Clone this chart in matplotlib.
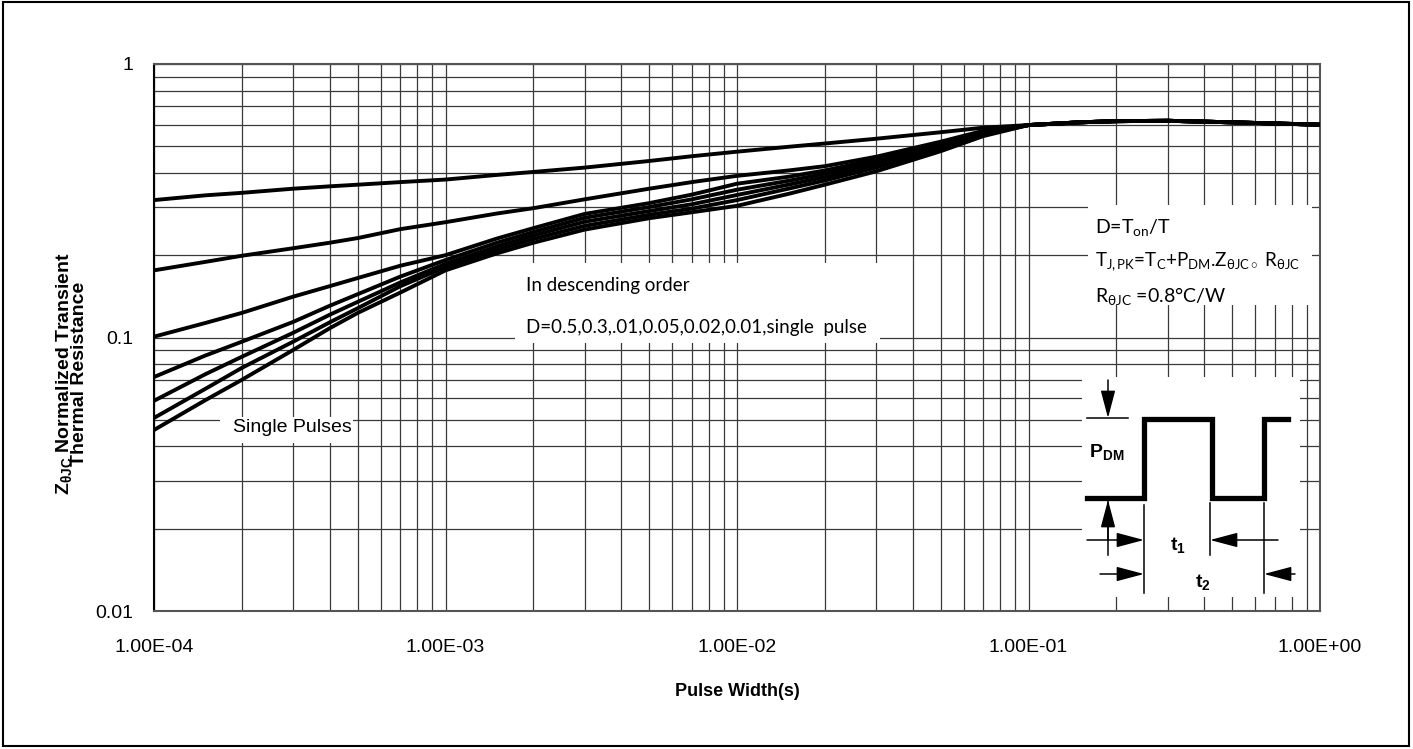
import matplotlib
matplotlib.use('Agg')
import matplotlib.pyplot as plt
from matplotlib.patches import Rectangle
from matplotlib.ticker import FixedLocator, NullFormatter, LogLocator

plt.rcParams['font.family'] = ['Liberation Sans', 'DejaVu Sans']
plt.rcParams['mathtext.fontset'] = 'custom'
plt.rcParams['mathtext.rm'] = 'Lato'
plt.rcParams['mathtext.it'] = 'Lato:italic'
plt.rcParams['mathtext.bf'] = 'Liberation Sans:bold'

# ---------------- data ----------------
pulse_width = [1e-4, 1.5e-4, 2e-4, 3e-4, 4e-4, 5e-4, 7e-4, 1e-3, 1.5e-3, 2e-3, 3e-3,
               5e-3, 7e-3, 1e-2, 1.5e-2, 2e-2, 3e-2, 5e-2, 7e-2, 1e-1, 1.5e-1, 2e-1,
               3e-1, 5e-1, 7e-1, 1.0]
z_d050 = [0.318, 0.331, 0.338, 0.350, 0.357, 0.362, 0.370, 0.378, 0.393, 0.403, 0.418,
          0.442, 0.460, 0.478, 0.498, 0.512, 0.533, 0.563, 0.585, 0.598, 0.612, 0.618,
          0.620, 0.612, 0.606, 0.600]
z_d030 = [0.176, 0.189, 0.199, 0.212, 0.222, 0.231, 0.249, 0.264, 0.284, 0.297, 0.320,
          0.350, 0.370, 0.390, 0.408, 0.423, 0.458, 0.520, 0.570, 0.598, 0.612, 0.618,
          0.620, 0.612, 0.606, 0.600]
z_d010 = [0.1007, 0.113, 0.123, 0.141, 0.154, 0.165, 0.183, 0.200, 0.230, 0.251, 0.283,
          0.310, 0.333, 0.365, 0.387, 0.408, 0.447, 0.512, 0.567, 0.598, 0.612, 0.618,
          0.620, 0.612, 0.606, 0.600]
z_d005 = [0.0717, 0.0859, 0.0965, 0.114, 0.1305, 0.144, 0.167, 0.192, 0.222, 0.243, 0.274,
          0.300, 0.320, 0.347, 0.374, 0.397, 0.437, 0.505, 0.563, 0.598, 0.612, 0.618,
          0.620, 0.612, 0.606, 0.600]
z_d002 = [0.0587, 0.0734, 0.085, 0.104, 0.121, 0.135, 0.159, 0.186, 0.215, 0.236, 0.265,
          0.290, 0.307, 0.332, 0.362, 0.386, 0.428, 0.498, 0.558, 0.598, 0.612, 0.618,
          0.620, 0.612, 0.606, 0.600]
z_d001 = [0.0508, 0.0649, 0.0774, 0.0965, 0.1135, 0.128, 0.154, 0.181, 0.209, 0.229, 0.256,
          0.281, 0.296, 0.318, 0.350, 0.375, 0.418, 0.490, 0.552, 0.598, 0.612, 0.618,
          0.620, 0.612, 0.606, 0.600]
z_single = [0.0459, 0.059, 0.070, 0.090, 0.108, 0.123, 0.146, 0.176, 0.203, 0.222, 0.248,
            0.273, 0.287, 0.303, 0.335, 0.362, 0.405, 0.480, 0.545, 0.598, 0.612, 0.618,
            0.620, 0.612, 0.606, 0.600]
curves = [z_d050, z_d030, z_d010, z_d005, z_d002, z_d001, z_single]

x_ticks = [1e-4, 1e-3, 1e-2, 1e-1, 1.0]
x_tick_labels = ['1.00E-04', '1.00E-03', '1.00E-02', '1.00E-01', '1.00E+00']
y_ticks = [0.01, 0.1, 1.0]
y_tick_labels = ['0.01', '0.1', '1']

# ---------------- figure ----------------
W, H = 1413, 749
fig = plt.figure(figsize=(W / 100, H / 100), dpi=100)
fig.patch.set_facecolor('white')

L, R, T, B = 154, 1320, 64, 611
ax = fig.add_axes([L / W, (H - B) / H, (R - L) / W, (B - T) / H], zorder=1)
ax.set_xscale('log')
ax.set_yscale('log')
ax.set_xlim(1e-4, 1.0)
ax.set_ylim(0.01, 1.0)

for z in curves:
    ax.plot(pulse_width, z, color='black', lw=2.8, solid_capstyle='round',
            solid_joinstyle='round', zorder=3)

ax.xaxis.set_major_locator(FixedLocator(x_ticks))
ax.set_xticklabels(x_tick_labels)
ax.yaxis.set_major_locator(FixedLocator(y_ticks))
ax.set_yticklabels(y_tick_labels)
ax.xaxis.set_minor_locator(LogLocator(base=10, subs=range(2, 10)))
ax.yaxis.set_minor_locator(LogLocator(base=10, subs=range(2, 10)))
ax.xaxis.set_minor_formatter(NullFormatter())
ax.yaxis.set_minor_formatter(NullFormatter())
ax.tick_params(which='both', length=0)
ax.tick_params(axis='x', pad=20, labelsize=14)
ax.tick_params(axis='y', pad=15, labelsize=14)
ax.grid(True, which='both', color='#3a3a3a', lw=0.9)
ax.set_axisbelow(True)
for s in ['top', 'right', 'bottom']:
    ax.spines[s].set_color('#555555')
    ax.spines[s].set_linewidth(1.5)
ax.spines['left'].set_color('black')
ax.spines['left'].set_linewidth(1.5)

ax.set_xlabel('Pulse Width(s)', fontsize=13, fontweight='bold', va='center')
ax.xaxis.set_label_coords(0.5, (B - 692) / (B - T))
ax.set_ylabel(r'$\mathbf{Z_{θJC}}$' + ' Normalized Transient\nThermal Resistance',
              fontsize=14, fontweight='bold', va='center', linespacing=0.78)
ax.yaxis.set_label_coords((71 - L) / (R - L), (B - 374) / (B - T))

# ---------------- overlay (pixel coordinates) ----------------
ov = fig.add_axes([0, 0, 1, 1], zorder=5)
ov.set_xlim(0, W)
ov.set_ylim(H, 0)
ov.axis('off')
ov.patch.set_alpha(0)

def wbox(x0, y0, x1, y1):
    ov.add_patch(Rectangle((x0, y0), x1 - x0, y1 - y0, fc='white', ec='none', zorder=1))

wbox(1088, 205, 1312, 305)
wbox(515, 263, 880, 343)
wbox(220, 417, 353, 443)
wbox(1082, 377, 1300, 597)

calib = ['Lato', 'DejaVu Sans']
ov.text(526, 286, 'In descending order', fontsize=13.5, family=calib, va='center', ha='left', zorder=2)
ov.text(526, 328, 'D=0.5,0.3,.01,0.05,0.02,0.01,single  pulse', fontsize=13.5, family=calib,
        va='center', ha='left', zorder=2)
ov.text(233, 428, 'Single Pulses', fontsize=14, va='center', ha='left', zorder=2)

ov.text(1095, 228, r'D=T$_{\mathrm{on}}$/T', fontsize=14, family=calib, va='center', ha='left', zorder=2)
ov.text(1095, 262,
        r'T$_{\mathrm{J,PK}}$=T$_{\mathrm{C}}$+P$_{\mathrm{DM}}$.Z$_{\mathrm{θJC}\circ}$ R$_{\mathrm{θJC}}$',
        fontsize=13.5, family=calib, va='center', ha='left', zorder=2)
ov.text(1095, 296, r'R$_{\mathrm{θJC}}$ =0.8°C/W', fontsize=14, family=calib, va='center',
        ha='left', zorder=2)

# inset pulse diagram
ov.plot([1087, 1144, 1144, 1212, 1212, 1264, 1264, 1288],
        [498, 498, 419, 419, 498, 498, 419, 419],
        color='black', lw=3.8, solid_joinstyle='miter', zorder=3)
thin = dict(color='black', lw=1.1, zorder=3)
ov.plot([1087, 1128], [418, 418], **thin)
ov.plot([1144, 1144], [505, 593], **thin)
ov.plot([1210, 1210], [503, 555], **thin)
ov.plot([1264, 1264], [503, 593], **thin)
ov.plot([1108, 1108], [500, 555], **thin)

def arrow(tail, tip):
    ov.annotate('', xy=tip, xytext=tail, zorder=4,
                arrowprops=dict(arrowstyle='-|>,head_length=1.7,head_width=0.45',
                                mutation_scale=10, lw=1.1, color='black',
                                shrinkA=0, shrinkB=0))

arrow((1108, 380), (1108, 418))
arrow((1108, 540), (1108, 500))
arrow((1087, 540), (1144, 540))
arrow((1278, 540), (1210, 540))
arrow((1100, 574), (1144, 574))
arrow((1295, 574), (1264, 574))

ov.text(1089, 452, r'$\mathbf{P_{DM}}$', fontsize=14, va='center', ha='left', zorder=4)
ov.text(1178, 545, r'$\mathbf{t_{1}}$', fontsize=14, va='center', ha='center', zorder=4)
ov.text(1203, 582, r'$\mathbf{t_{2}}$', fontsize=14, va='center', ha='center', zorder=4)

# figure border
ov.add_patch(Rectangle((3, 2), W - 7, H - 5, fc='none', ec='black', lw=1.5, zorder=6))

fig.savefig('out.png', dpi=100, facecolor='white')
